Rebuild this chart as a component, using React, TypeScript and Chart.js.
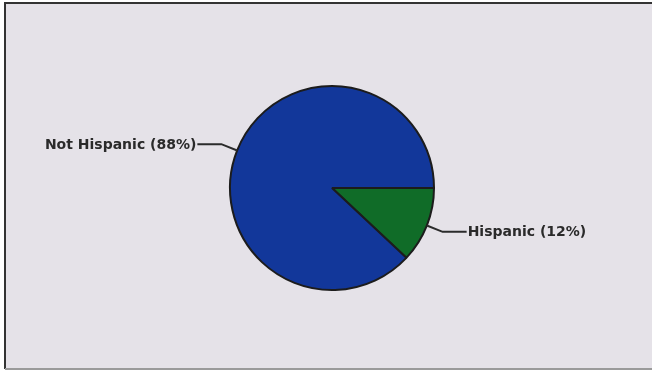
import React, { useEffect, useRef } from "react";
import { Chart, registerables } from "chart.js";

Chart.register(...registerables);

const categories: string[] = ["Hispanic", "Not Hispanic"];
const percents: number[] = [12, 88];
const sliceColors: string[] = ["#106c28", "#12379a"];

const framePlugin = {
  id: "framePlugin",
  beforeDraw(chart: any) {
    const ctx = chart.ctx;
    const w = chart.width;
    const h = chart.height;
    ctx.save();
    ctx.fillStyle = "#ffffff";
    ctx.fillRect(0, 0, w, h);
    ctx.fillStyle = "#e5e2e8";
    ctx.fillRect(5, 3, w - 5, 366);
    ctx.strokeStyle = "#333333";
    ctx.lineWidth = 2;
    ctx.beginPath();
    ctx.moveTo(5, 369);
    ctx.lineTo(5, 3);
    ctx.lineTo(w, 3);
    ctx.stroke();
    ctx.strokeStyle = "#9a9a9a";
    ctx.beginPath();
    ctx.moveTo(5, 369);
    ctx.lineTo(w, 369);
    ctx.stroke();
    ctx.restore();
  },
};

const leaderPlugin = {
  id: "leaderPlugin",
  afterDatasetsDraw(chart: any) {
    const ctx = chart.ctx;
    const meta = chart.getDatasetMeta(0);
    ctx.save();
    ctx.strokeStyle = "#2b2b2b";
    ctx.lineWidth = 2;
    ctx.fillStyle = "#2a2a2a";
    ctx.font = "bold 14px 'DejaVu Sans', sans-serif";
    ctx.textBaseline = "middle";
    meta.data.forEach((arc: any, i: number) => {
      const p = arc.getProps(["x", "y", "startAngle", "endAngle", "outerRadius"], true);
      const mid = (p.startAngle + p.endAngle) / 2;
      const r0 = p.outerRadius;
      const r1 = p.outerRadius + 17;
      const x0 = p.x + Math.cos(mid) * r0;
      const y0 = p.y + Math.sin(mid) * r0;
      const x1 = p.x + Math.cos(mid) * r1;
      const y1 = p.y + Math.sin(mid) * r1;
      const right = Math.cos(mid) >= 0;
      const x2 = x1 + (right ? 24 : -24);
      ctx.beginPath();
      ctx.moveTo(x0, y0);
      ctx.lineTo(x1, y1);
      ctx.lineTo(x2, y1);
      ctx.stroke();
      const text = `${categories[i]} (${percents[i]}%)`;
      ctx.textAlign = right ? "left" : "right";
      ctx.fillText(text, x2 + (right ? 1 : -1), y1 + 1);
    });
    ctx.restore();
  },
};

export default function App() {
  const ref = useRef<HTMLCanvasElement | null>(null);
  useEffect(() => {
    document.body.style.margin = "0";
    if (!ref.current) return;
    const chart = new Chart(ref.current, {
      type: "pie",
      data: {
        labels: categories,
        datasets: [
          {
            data: percents,
            backgroundColor: sliceColors,
            borderColor: "#1c1c1c",
            borderWidth: 2,
          },
        ],
      },
      options: {
        responsive: false,
        animation: false,
        rotation: 90,
        layout: { padding: { left: 229, right: 217, top: 85, bottom: 80 } },
        plugins: {
          legend: { display: false },
          tooltip: { enabled: false },
        },
      },
      plugins: [framePlugin, leaderPlugin],
    });
    return () => chart.destroy();
  }, []);
  return (
    <div style={{ width: 652, height: 371, position: "relative" }}>
      <canvas ref={ref} width={652} height={371} style={{ display: "block" }} />
    </div>
  );
}
